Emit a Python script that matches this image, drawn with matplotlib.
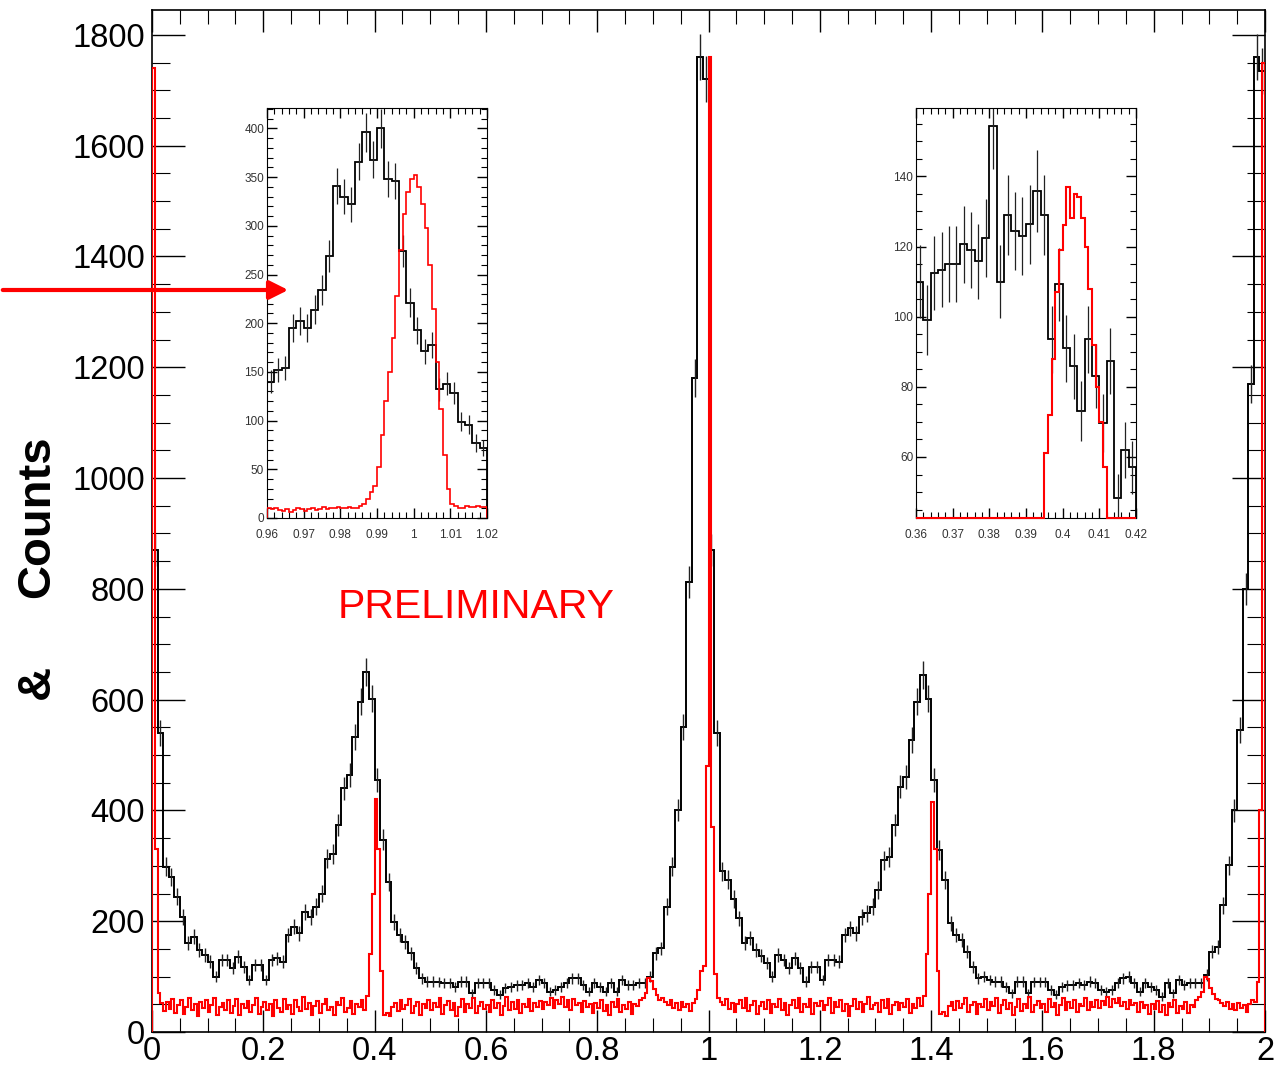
import numpy as np
import matplotlib.pyplot as plt
from matplotlib.ticker import MultipleLocator
from matplotlib.patches import FancyArrowPatch

plt.rcParams['font.family'] = ['Liberation Sans', 'DejaVu Sans']

# main black histogram, bins of 0.01 from 0 to 2
black_main = [
    870, 540, 298, 280, 244, 208, 160, 172, 148, 139,
    127, 100, 130, 130, 115, 136, 118, 94, 121, 121,
    94, 130, 133, 127, 175, 190, 178, 217, 208, 226,
    250, 313, 322, 374, 440, 464, 533, 596, 650, 602,
    455, 347, 271, 199, 175, 163, 142, 115, 97, 91,
    91, 90, 88, 88, 82, 91, 91, 70, 88, 88,
    88, 76, 67, 79, 82, 84, 85, 88, 82, 94,
    88, 73, 76, 82, 88, 97, 97, 85, 73, 88,
    82, 73, 88, 73, 94, 85, 85, 88, 88, 100,
    142, 151, 226, 298, 401, 550, 812, 1180, 1760, 1720,
    870, 540, 290, 275, 240, 205, 160, 170, 148, 138,
    125, 100, 139, 130, 115, 133, 115, 91, 118, 118,
    94, 130, 130, 127, 175, 187, 178, 208, 214, 226,
    256, 310, 316, 374, 443, 461, 527, 596, 645, 602,
    455, 329, 274, 196, 175, 166, 145, 118, 97, 100,
    94, 91, 91, 82, 70, 91, 91, 70, 90, 90,
    90, 76, 67, 82, 84, 85, 88, 85, 91, 88,
    76, 73, 76, 88, 97, 100, 88, 73, 88, 82,
    76, 64, 88, 70, 94, 85, 88, 88, 88, 103,
    145, 154, 229, 301, 400, 545, 800, 1170, 1760, 1735,
]

# main red histogram, bins of 0.005 from 0 to 2
red_main = [
    1740, 330, 70, 52, 38, 55, 41, 60, 35, 48, 57, 33, 46, 62, 39, 50, 29, 54, 44, 58,
    36, 49, 61, 31, 45, 53, 40, 57, 34, 47, 59, 30, 51, 43, 56, 37, 48, 62, 33, 46,
    55, 39, 50, 28, 58, 44, 36, 60, 42, 49, 33, 57, 46, 38, 63, 41, 52, 30, 47, 56,
    35, 50, 59, 40, 45, 31, 54, 48, 61, 37, 43, 56, 32, 51, 46, 58, 39, 65, 140, 250,
    420, 330, 110, 30, 34, 28, 45, 52, 38, 57, 42, 49, 60, 35, 47, 55, 31, 50, 44, 58,
    39, 53, 46, 61, 33, 48, 56, 40, 52, 29, 45, 59, 37, 50, 43, 62, 34, 47, 55, 41,
    49, 36, 58, 44, 52, 30, 47, 63, 39, 54, 42, 57, 35, 50, 46, 60, 38, 53, 45, 56,
    41, 55, 48, 62, 44, 58, 51, 64, 46, 57, 40, 60, 49, 53, 37, 56, 45, 50, 34, 52,
    43, 57, 38, 49, 31, 54, 46, 59, 36, 48, 42, 55, 33, 50, 47, 58, 62, 70, 98, 92,
    78, 66, 58, 62, 54, 49, 57, 44, 52, 40, 55, 46, 50, 38, 53, 60, 75, 110, 120, 480,
    1760, 370, 105, 62, 55, 48, 59, 41, 53, 36, 50, 57, 44, 61, 38, 49, 56, 33, 47, 54,
    42, 58, 35, 51, 46, 60, 39, 53, 30, 48, 57, 43, 62, 37, 50, 45, 59, 32, 52, 47,
    56, 40, 49, 61, 34, 54, 45, 58, 38, 51, 29, 47, 60, 42, 55, 36, 50, 63, 41, 48,
    53, 37, 57, 44, 60, 32, 49, 55, 40, 52, 46, 59, 35, 50, 43, 62, 47, 65, 140, 250,
    415, 330, 110, 32, 36, 29, 47, 54, 40, 56, 43, 50, 61, 37, 48, 55, 33, 51, 45, 59,
    40, 54, 47, 62, 35, 49, 57, 42, 53, 31, 46, 60, 38, 51, 44, 63, 36, 48, 56, 43,
    50, 37, 59, 45, 53, 31, 48, 62, 40, 55, 43, 58, 36, 51, 47, 61, 39, 54, 46, 57,
    43, 56, 49, 63, 45, 59, 52, 61, 47, 55, 41, 58, 48, 52, 36, 55, 44, 49, 33, 51,
    42, 56, 37, 48, 30, 53, 45, 58, 35, 47, 41, 54, 34, 49, 46, 57, 63, 72, 100, 95,
    80, 68, 60, 57, 52, 47, 55, 42, 50, 39, 53, 44, 48, 37, 51, 58, 55, 90, 400, 1750,
]

# left inset (0.96 - 1.02): black bins 0.002, red bins 0.001
black_left = [140, 152, 154, 195, 202, 195, 214, 234, 269, 341,
              330, 322, 366, 396, 368, 400, 348, 346, 274, 221,
              193, 171, 178, 132, 138, 128, 99, 96, 77, 72]
red_left = [10, 9, 10, 8, 7, 9, 6, 8, 10, 9, 7, 9, 10, 8, 9, 11, 9, 10, 10, 11,
            10, 10, 11, 10, 10, 12, 14, 20, 27, 33, 52, 85, 120, 150, 185, 228, 275, 312, 335, 348,
            352, 340, 322, 298, 260, 215, 160, 112, 65, 30, 14, 12, 10, 10, 12, 11, 11, 12, 11, 11]

# right inset (0.36 - 0.42): black bins 0.002, red bins 0.001
black_right = [110, 99, 112.5, 113.4, 115, 115, 120.6, 119, 115.8, 122.5,
               154.4, 110, 129, 124.4, 123, 126.3, 135.8, 129, 93.5, 109.2,
               91, 85.8, 73, 93.5, 83, 69.7, 87.3, 48.2, 62, 57]
red_right = [8, 9, 7, 10, 8, 9, 11, 8, 7, 9, 10, 8, 9, 7, 10, 9, 8, 11, 9, 8,
             10, 9, 8, 10, 9, 11, 8, 9, 10, 8, 9, 10, 11, 9, 10, 61, 72, 88, 107, 119,
             126, 137, 128, 135, 134, 128, 120, 108, 92, 80, 70, 57, 9, 8, 10, 9, 8, 9, 10, 8]

RED = '#ff0000'


def hist_axes_style(ax, xmaj, xmin, ymaj, ymin, lmaj, lmin, xl_maj, xl_min, size, pad):
    ax.xaxis.set_major_locator(MultipleLocator(xmaj))
    ax.xaxis.set_minor_locator(MultipleLocator(xmin))
    ax.yaxis.set_major_locator(MultipleLocator(ymaj))
    ax.yaxis.set_minor_locator(MultipleLocator(ymin))
    ax.tick_params(which='both', direction='in', top=True, right=True,
                   color='black', labelsize=size, pad=pad)
    ax.tick_params(axis='y', which='major', length=lmaj, width=1.0)
    ax.tick_params(axis='y', which='minor', length=lmin, width=0.8)
    ax.tick_params(axis='x', which='major', length=xl_maj, width=1.0)
    ax.tick_params(axis='x', which='minor', length=xl_min, width=0.8)


def fmt_num(v, _):
    return f'{v:.2f}'.rstrip('0').rstrip('.')


fig = plt.figure(figsize=(12.8, 10.7), dpi=100)

# ---- main pad
ax = fig.add_axes([152 / 1280, 38 / 1070, 1113 / 1280, 1022 / 1070])
edges_b = np.linspace(0, 2, len(black_main) + 1)
edges_r = np.linspace(0, 2, len(red_main) + 1)
bm = np.array(black_main, dtype=float)
ax.stairs(bm, edges_b, color='black', lw=1.4)
ax.errorbar(0.5 * (edges_b[1:] + edges_b[:-1]), bm, yerr=np.sqrt(bm),
            fmt='none', ecolor='#222222', elinewidth=1.0, capsize=0)
ax.stairs(red_main, edges_r, color=RED, lw=1.5, zorder=3)
ax.set_xlim(0, 2)
ax.set_ylim(0, 1845)
hist_axes_style(ax, 0.2, 0.05, 200, 50, 24, 13, 16, 10, 23.5, 5)
ax.xaxis.set_major_formatter(fmt_num)
ax.tick_params(axis='x', pad=3)
for s in ax.spines.values():
    s.set_linewidth(1.2)

fig.text(476 / 1280, 1 - 607 / 1070, 'PRELIMINARY', color=RED, fontsize=29.5,
         ha='center', va='center')

fig.text(37 / 1280, 1 - 517 / 1070, 'Counts', rotation=90, fontsize=34,
         fontweight='bold', ha='center', va='center',
         family=['Liberation Sans Narrow', 'Liberation Sans', 'DejaVu Sans'])
fig.text(37 / 1280, 1 - 682 / 1070, '&', rotation=90, fontsize=34,
         fontweight='bold', ha='center', va='center',
         family=['Liberation Sans Narrow', 'Liberation Sans', 'DejaVu Sans'])

# ---- left inset
axl = fig.add_axes([267 / 1280, 552 / 1070, 220 / 1280, 410 / 1070])
eb = np.linspace(0.96, 1.02, len(black_left) + 1)
er = np.linspace(0.96, 1.02, len(red_left) + 1)
bl = np.array(black_left, dtype=float)
axl.stairs(bl, eb, color='black', lw=1.3)
axl.errorbar(0.5 * (eb[1:] + eb[:-1]), bl, yerr=np.sqrt(bl), fmt='none',
             ecolor='#222222', elinewidth=0.9, capsize=0)
axl.stairs(red_left, er, color=RED, lw=1.2, zorder=3)
axl.set_xlim(0.96, 1.02)
axl.set_ylim(0, 421)
hist_axes_style(axl, 0.01, 0.002, 50, 10, 7, 4, 7, 4, 8.5, 2)
axl.xaxis.set_major_formatter(fmt_num)
axl.tick_params(axis='x', pad=8)
axl.tick_params(labelcolor='#333333')

# ---- right inset
axr = fig.add_axes([916 / 1280, 552 / 1070, 220 / 1280, 410 / 1070])
eb = np.linspace(0.36, 0.42, len(black_right) + 1)
er = np.linspace(0.36, 0.42, len(red_right) + 1)
br = np.array(black_right, dtype=float)
y_lo = 42.6
axr.stairs(br, eb, color='black', lw=1.3)
axr.errorbar(0.5 * (eb[1:] + eb[:-1]), br, yerr=np.sqrt(br), fmt='none',
             ecolor='#222222', elinewidth=0.9, capsize=0)
# underflow bins drawn on the lower frame, like ROOT does
axr.stairs(np.maximum(red_right, y_lo), er, color=RED, lw=1.5, zorder=3,
           baseline=None, clip_on=False)
axr.set_xlim(0.36, 0.42)
axr.set_ylim(y_lo, 159.5)
hist_axes_style(axr, 0.01, 0.002, 20, 5, 7, 4, 7, 4, 8.5, 2)
axr.xaxis.set_major_formatter(fmt_num)
axr.tick_params(axis='x', pad=8)
axr.tick_params(labelcolor='#333333')

# arrow pointing at the left inset, drawn above everything
arrow = FancyArrowPatch((0, 1070 - 290), (291, 1070 - 290),
                        transform=None, arrowstyle='-|>', color=RED, lw=3,
                        mutation_scale=28, zorder=10)
fig.add_artist(arrow)

fig.savefig('out.png', dpi=100)
